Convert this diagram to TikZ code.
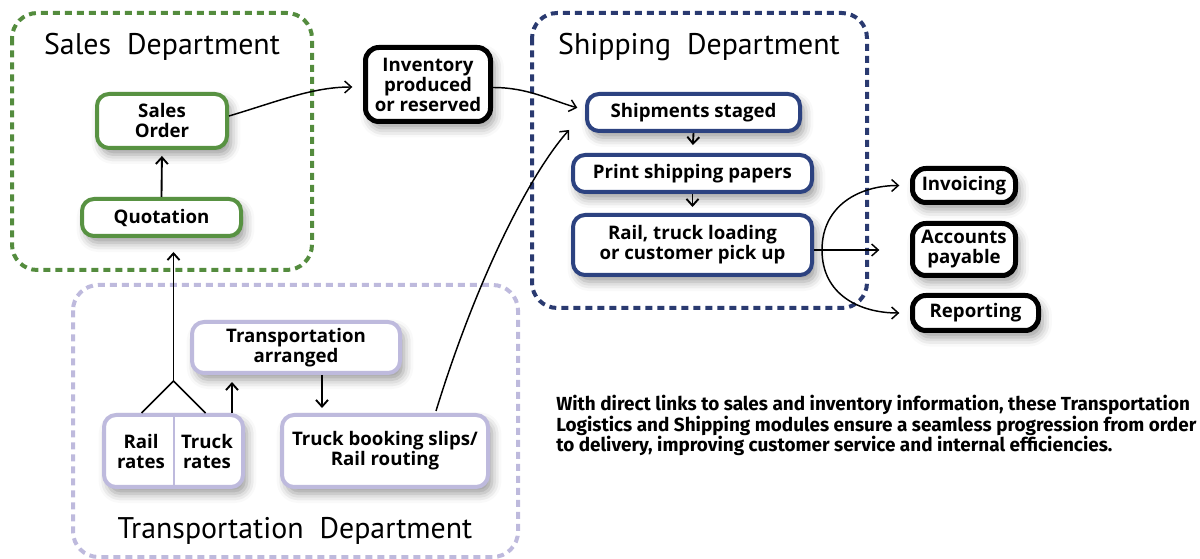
\documentclass[tikz,border=0pt]{standalone}
\usepackage{fontspec}
\setmainfont{PT Sans}
\newfontfamily\parafont{Fira Sans}
\newfontfamily\boxfont{Open Sans}
\usetikzlibrary{arrows.meta,calc,shadows.blur}
\definecolor{sgreen}{RGB}{88,146,66}
\definecolor{dgreen}{RGB}{84,140,62}
\definecolor{lav}{RGB}{190,186,221}
\definecolor{navy}{RGB}{44,66,128}
\definecolor{dnavy}{RGB}{42,58,112}
\begin{document}
\begin{tikzpicture}[x=0.75pt,y=-0.75pt,
  dept/.style={line width=3pt, dash pattern=on 5.25pt off 3.75pt, rounded corners=19pt},
  box/.style={draw, line width=3pt, rounded corners=9pt, fill=white, align=center,
    font=\boxfont\bfseries\fontsize{14}{15}\selectfont, inner sep=0pt,
    blur shadow={shadow xshift=3pt,shadow yshift=-5pt,shadow blur radius=7pt,shadow opacity=40}},
  blk/.style={box, draw=black, line width=3.75pt, rounded corners=10pt},
  lbl/.style={align=center, font=\boxfont\bfseries\fontsize{14}{15}\selectfont, inner sep=0pt},
  title/.style={font=\fontsize{22.4}{24}\selectfont, anchor=base, inner sep=0pt},
  arr/.style={-{Straight Barb[length=5pt,width=9pt]}, line width=1.1pt},
]
\useasboundingbox (0,0) rectangle (1200,559);

% department containers
\draw[dept, dgreen] (12,13) rectangle (312,270);
\draw[dept, dnavy] (532,13) rectangle (867,308);
\draw[dept, lav] (73,285) rectangle (518,557);

\node[title] (salest) at (162,55) {Sales\ \ Department};
\node[title] (shipt) at (699,55) {Shipping\ \ Department};
\node[title] (transt) at (295,538) {Transportation\ \ Department};

% sales
\node[box, draw=sgreen, minimum width=97.5pt, minimum height=40.5pt] (so) at (162,121) {Sales\\Order};
\node[box, draw=sgreen, minimum width=119.25pt, minimum height=27.75pt] (quot) at (161.5,217.5) {Quotation};
\node[blk, minimum width=93.75pt, minimum height=55.5pt] (inv) at (428,84.5) {Inventory\\produced\\or reserved};

% shipping
\node[box, draw=navy, minimum width=159.75pt, minimum height=27.75pt] (staged) at (693.5,112.5) {Shipments staged};
\node[box, draw=navy, minimum width=179.25pt, minimum height=27.75pt] (print) at (692.5,173.5) {Print shipping papers};
\node[box, draw=navy, minimum width=179.25pt, minimum height=45pt] (load) at (692.5,245) {Rail, truck loading\\or customer pick up};

% outputs
\node[blk, minimum width=77.25pt, minimum height=25.5pt] (invc) at (964,185.5) {Invoicing};
\node[blk, minimum width=77.25pt, minimum height=39pt] (acct) at (964,249.5) {Accounts\\payable};
\node[blk, minimum width=94.5pt, minimum height=26.25pt] (rep) at (975.5,313) {Reporting};

% transportation
\node[box, draw=lav, minimum width=156pt, minimum height=38.25pt] (tarr) at (296,347.5) {Transportation\\arranged};
\node[box, draw=lav, minimum width=104.25pt, minimum height=54pt] (rates) at (173.5,451) {};
\draw[lav, line width=1.5pt] (rates.north) -- (rates.south);
\node[lbl] (railr) at (141,452) {Rail\\rates};
\node[lbl] (truckr) at (207,452) {Truck\\rates};
\node[box, draw=lav, minimum width=154.5pt, minimum height=54pt] (book) at (385,451) {Truck booking slips/\\Rail routing};

% note
\node[anchor=base west, align=left, inner sep=0pt,
  font=\parafont\bfseries\fontsize{14.2}{14.5}\selectfont] (note) at (556,452)
  {With direct links to sales and inventory information, these Transportation\\
   Logistics and Shipping modules ensure a seamless progression from order\\
   to delivery, improving customer service and internal efficiencies.};

% connectors
\draw[arr, shorten >=8pt] ($(so.east)+(0,-5)$) .. controls +(50,-15) and +(-50,0) .. ($(inv.west)+(0,2.5)$);
\draw[arr, shorten >=6pt] ($(inv.east)+(0,3)$) .. controls +(35,0) and +(-35,-10) .. ($(staged.west)+(0,-2.5)$);
\draw[arr] ($(book.north)+(51,-2)$) .. controls +(40,-130) and +(-40,45) .. ($(staged.south west)+(-16,-3)$);
\draw[arr, line width=1.4pt, shorten >=4.5pt] (quot.north) -- (so.south);

\coordinate (br) at ($(rates.north)+(0,-32)$);
\draw[line width=1.1pt] ($(rates.north)+(-32,0)$) -- (br) -- ($(rates.north)+(32,0)$);
\draw[arr, line width=1.4pt, shorten >=10.5pt] (br) -- (br |- quot.south);

\coordinate (tr) at ($(rates.north east)+(-13,0)$);
\draw[arr, line width=1.4pt, shorten >=5.25pt] (tr) -- (tr |- tarr.south);
\coordinate (ta) at ($(tarr.south)+(26,0)$);
\draw[arr, line width=1.4pt, shorten >=3.75pt] (ta) -- (ta |- book.north);

\draw[arr, line width=1.4pt, shorten >=6pt] (staged.south) -- (print.north);
\draw[arr, line width=1.4pt, shorten >=4.5pt] (print.south) -- (load.north);

\coordinate (fk) at ($(load.east)+(0,5)$);
\coordinate (fk2) at ($(load.east)+(8,5)$);
\draw[arr, shorten >=23pt] (fk) -- (fk -| acct.west);
\draw[arr, shorten >=8pt] (fk2) .. controls +(0,-45) and +(-50,0) .. (invc.west);
\draw[arr, shorten >=8pt] (fk2) .. controls +(0,45) and +(-50,0) .. (rep.west);
\end{tikzpicture}
\end{document}
